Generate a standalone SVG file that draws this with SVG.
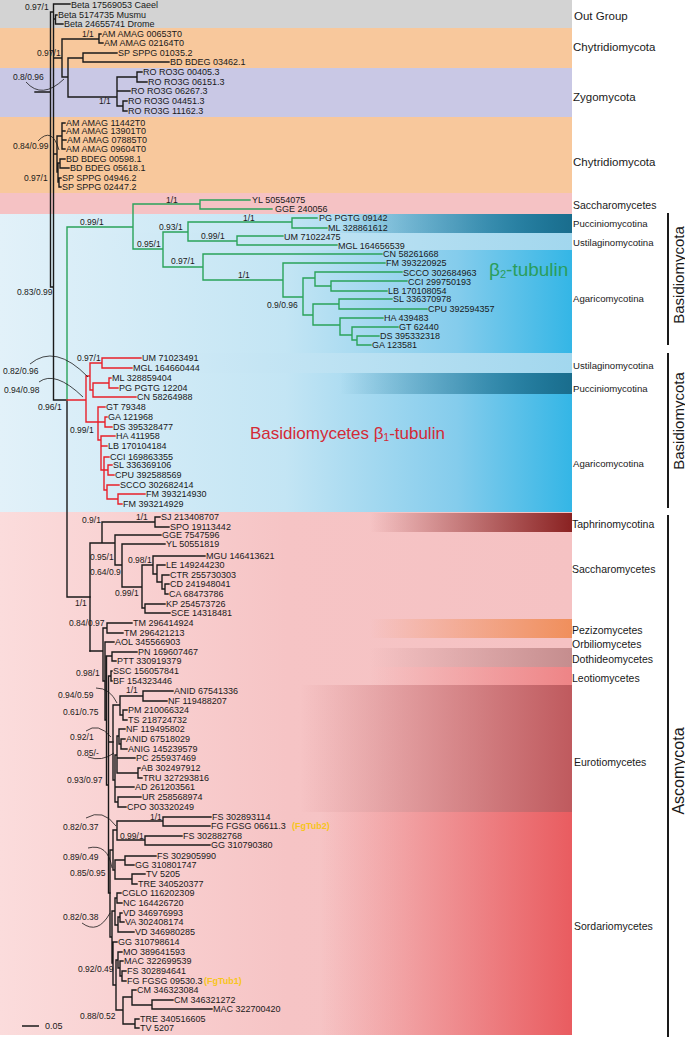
<svg xmlns="http://www.w3.org/2000/svg" width="685" height="1037" viewBox="0 0 685 1037">
<defs>
<linearGradient id="gBlue" gradientUnits="userSpaceOnUse" x1="0" y1="0" x2="572" y2="0"><stop offset="0" stop-color="#e2f1f9"/><stop offset="0.5" stop-color="#c3e5f4"/><stop offset="0.8" stop-color="#84ccec"/><stop offset="1" stop-color="#34b6e6"/></linearGradient>
<linearGradient id="gUst" gradientUnits="userSpaceOnUse" x1="0" y1="0" x2="572" y2="0"><stop offset="0" stop-color="#e2f1f9"/><stop offset="1" stop-color="#a2d7ee"/></linearGradient>
<linearGradient id="gPuc" gradientUnits="userSpaceOnUse" x1="340" y1="0" x2="572" y2="0"><stop offset="0" stop-color="#1a6d8d" stop-opacity="0"/><stop offset="1" stop-color="#1a6d8d"/></linearGradient>
<linearGradient id="gPink" gradientUnits="userSpaceOnUse" x1="0" y1="0" x2="572" y2="0"><stop offset="0" stop-color="#fbdcdc"/><stop offset="0.5" stop-color="#f6c4c5"/><stop offset="1" stop-color="#f5c2c3"/></linearGradient>
<linearGradient id="gTaph" gradientUnits="userSpaceOnUse" x1="370" y1="0" x2="572" y2="0"><stop offset="0" stop-color="#8a2222" stop-opacity="0"/><stop offset="1" stop-color="#8a2222"/></linearGradient>
<linearGradient id="gPez" gradientUnits="userSpaceOnUse" x1="370" y1="0" x2="572" y2="0"><stop offset="0" stop-color="#f08f5c" stop-opacity="0"/><stop offset="1" stop-color="#f08f5c"/></linearGradient>
<linearGradient id="gDoth" gradientUnits="userSpaceOnUse" x1="370" y1="0" x2="572" y2="0"><stop offset="0" stop-color="#c58d8e" stop-opacity="0"/><stop offset="1" stop-color="#c58d8e"/></linearGradient>
<linearGradient id="gLeo" gradientUnits="userSpaceOnUse" x1="370" y1="0" x2="572" y2="0"><stop offset="0" stop-color="#ee8486" stop-opacity="0"/><stop offset="1" stop-color="#ee8486"/></linearGradient>
<linearGradient id="gEuro" gradientUnits="userSpaceOnUse" x1="300" y1="0" x2="572" y2="0"><stop offset="0" stop-color="#bf5a5e" stop-opacity="0"/><stop offset="1" stop-color="#bf5a5e"/></linearGradient>
<linearGradient id="gSord" gradientUnits="userSpaceOnUse" x1="320" y1="0" x2="572" y2="0"><stop offset="0" stop-color="#e95c60" stop-opacity="0"/><stop offset="1" stop-color="#e95c60"/></linearGradient>
</defs>
<style>
.lf{font-family:"Liberation Sans",Arial,sans-serif;font-size:9px;fill:#1a1a1a}
.sp{font-family:"Liberation Sans",Arial,sans-serif;font-size:8.5px;fill:#1a1a1a}
.cl{font-family:"Liberation Sans",Arial,sans-serif;fill:#1a1a1a}
.c1{font-size:11.5px}.c2{font-size:9.6px}.c3{font-size:10.5px}
.k{fill:none;stroke:#1a1a1a;stroke-width:1.4;stroke-linecap:square}
.gr{fill:none;stroke:#2aa35a;stroke-width:1.4;stroke-linecap:square}
.rd{fill:none;stroke:#e8202a;stroke-width:1.4;stroke-linecap:square}
.ar{fill:none;stroke:#1a1a1a;stroke-width:0.8}
.bar{fill:none;stroke:#1a1a1a;stroke-width:2}
.ye{font-family:"Liberation Sans",Arial,sans-serif;font-size:9px;font-weight:bold;fill:#f7c520}
</style>
<g id="background">
<rect x="0" y="0" width="572" height="28" fill="#d3d3d3"/>
<rect x="0" y="28" width="572" height="40" fill="#f8c89c"/>
<rect x="0" y="68" width="572" height="49" fill="#c9c8e5"/>
<rect x="0" y="117" width="572" height="76" fill="#f8c89c"/>
<rect x="0" y="193" width="572" height="21" fill="#f5c2c4"/>
<rect x="0" y="214" width="572" height="298" fill="url(#gBlue)"/>
<rect x="0" y="214" width="572" height="19" fill="url(#gPuc)"/>
<rect x="0" y="233" width="572" height="17" fill="url(#gUst)"/>
<rect x="0" y="353" width="572" height="20" fill="url(#gUst)"/>
<rect x="0" y="373" width="572" height="21" fill="url(#gPuc)"/>
<rect x="0" y="512" width="572" height="523" fill="url(#gPink)"/>
<rect x="0" y="513" width="572" height="19" fill="url(#gTaph)"/>
<rect x="0" y="619" width="572" height="19" fill="url(#gPez)"/>
<rect x="0" y="648" width="572" height="19" fill="url(#gDoth)"/>
<rect x="0" y="667" width="572" height="18" fill="url(#gLeo)"/>
<rect x="0" y="685" width="572" height="127" fill="url(#gEuro)"/>
<rect x="0" y="812" width="572" height="223" fill="url(#gSord)"/>
</g>
<g id="connectors">
<path class="k" d="M53.5,4 H70 M53.5,4 V400 M53.5,19 H55.5 M55.5,15 V24 M55.5,15 H57 M55.5,24 H63 M50.5,12 H53.5 M50.5,12 V287 H53.5 M35,92 H50.5 M53.5,58 H62 M62,39 V77 M62,39 H99 M99,34 V43 M99,34 H101 M99,43 H103 M62,77 H68 M68,58 V97 M68,58 H83 M83,53 V62 M83,53 H117 M83,62 H169 M68,97 H117 M117,77 V106 M117,77 H137 M137,72 V82 M137,72 H142 M137,82 H147 M117,91 H130 M117,106 H123 M123,101 V111 M123,101 H127 M123,111 H127 M53.5,154 H57 M57,136 V172 M57,136 H62 M62,123 V149 M62,123 H65 M62,131 H65 M62,140 H66 M62,149 H65 M57,172 H58 M58,163 V182 M58,163 H60 M60,159 V168 M60,159 H65 M60,168 H69 M58,182 H59 M59,178 V187 M59,178 H61 M59,187 H61 M53.5,400 H67 M67,400 V597 M67,597 H90"/>
<path class="k" d="M90,543 V651 M90,543 H102 M102,522 V543 M102,522 H155 M155,517 V527 M155,517 H160 M155,527 H169 M102,543 H115 M115,535 V565 M115,535 H161 M115,565 H122 M122,544 V587 M122,544 H165 M122,587 H142 M142,565 V608 M142,565 H153 M153,556 V574 M153,556 H205 M153,574 H157 M157,565 V582 M157,565 H165 M157,582 H162 M162,575 V589 M162,575 H169 M162,589 H165 M165,584 V594 M165,584 H169 M165,594 H168 M142,608 H145 M145,604 V613 M145,604 H165 M145,613 H170"/>
<path class="k" d="M90,651 H103 M103,628 V681 M103,628 H107 M107,623 V633 M107,623 H132 M107,633 H123 M103,681 H105 M105,642 V720 M105,642 H114 M105,720 H106.5 M106.5,656 V785 M106.5,656 H112 M112,652 V661 M112,652 H137 M112,661 H116 M106.5,785 H108.5 M108.5,676 V893 M108.5,676 H111 M111,671 V681 M111,671 H112 M111,681 H112 M108.5,742 H113 M108.5,893 H110"/>
<path class="k" d="M113,705 V780 M113,705 H120 M120,696 V715 M120,696 H143 M143,691 V701 M143,691 H173 M143,701 H167 M120,715 H123 M123,710 V720 M123,710 H127 M123,720 H127 M113,780 H115 M115,755 V802 M115,755 H117 M117,736 V773 M117,736 H119 M119,729 V744 M119,729 H125 M119,744 H121 M121,739 V749 M121,739 H125 M121,749 H127 M117,758 H135 M117,773 H138 M138,768 V778 M138,768 H140 M138,778 H142 M115,787 H134 M115,802 H118 M118,797 V807 M118,797 H141 M118,807 H126"/>
<path class="k" d="M110,850 V937 M110,850 H113 M113,830 V870 M113,830 H117 M117,821 V840 M117,821 H163 M163,817 V826 M163,817 H211 M163,826 H210 M117,840 H145 M145,836 V845 M145,836 H182 M145,845 H210 M113,870 H115 M115,860 V879 M115,860 H125 M125,856 V865 M125,856 H156 M125,865 H134 M115,879 H132 M132,874 V884 M132,874 H145 M132,884 H137 M110,937 H112 M112,911 V963 M112,911 H115 M115,898 V925 M115,898 H117 M117,893 V903 M117,893 H121 M117,903 H122 M115,925 H118 M118,917 V932 M118,917 H120 M120,913 V922 M120,913 H122 M120,922 H124 M118,932 H134 M112,963 H113 M113,942 V985 M113,942 H117 M113,985 H116 M116,960 V1010 M116,960 H118 M118,952 V968 M118,952 H122 M118,968 H120 M120,961 V976 M120,961 H123 M120,976 H122 M122,971 V981 M122,971 H126 M122,981 H126 M116,1010 H123 M123,997 V1024 M123,997 H132 M132,990 V1005 M132,990 H136 M132,1005 H152 M152,1000 V1009 M152,1000 H173 M152,1009 H212 M123,1024 H135 M135,1019 V1028 M135,1019 H139 M135,1028 H139"/>
<path class="gr" d="M67,227 V400 M67,227 H133 M133,204 V249 M133,204 H200 M200,200 V209 M200,200 H250 M200,209 H272 M133,249 H163 M163,232 V267 M163,232 H188 M188,222 V241 M188,222 H292 M292,218 V228 M292,218 H317 M292,228 H327 M188,241 H237 M237,236 V245 M237,236 H283 M237,245 H337 M163,267 H203 M203,254 V280 M203,254 H382 M203,280 H283 M283,263 V297 M283,263 H385 M283,297 H303 M303,278 V315 M303,278 H315 M315,272 V286 M315,272 H402 M315,286 H331 M331,281 V291 M331,281 H407 M331,291 H387 M303,315 H313 M313,304 V325 M313,304 H339 M339,299 V309 M339,299 H392 M339,309 H427 M313,325 H340 M340,318 V335 M340,318 H383 M340,335 H352 M352,327 V340 M352,327 H398 M352,340 H357 M357,336 V345 M357,336 H379 M357,345 H371"/>
<path class="rd" d="M67,400 H86 M86,376 V422 M86,376 H90 M90,363 V390 M90,363 H102 M102,358 V368 M102,358 H141 M102,368 H132 M90,390 H93 M93,383 V397 M93,383 H109 M109,378 V388 M109,378 H111 M109,388 H118 M93,397 H136 M86,422 H98 M98,407 V440 M98,407 H105 M98,422 H105 M105,417 V427 M105,417 H107 M105,427 H112 M98,440 H101 M101,436 V470 M101,436 H115 M101,446 H107 M101,470 H104 M104,457 V490 M104,457 H109 M104,470 H108 M108,465 V475 M108,465 H112 M108,475 H114 M104,490 H107 M107,485 V499 M107,485 H119 M107,499 H118 M118,494 V504 M118,494 H145 M118,504 H122"/>
<path class="ar" d="M26,82 Q42,100 64,79 M38,141 Q52,126 59,150 M30,364 Q55,343 88,377 M39,382 Q55,370 83,397 M96,688 Q110,688 117,703 M86,731 Q98,722 111,737 M88,757 Q102,762 114,753 M86,818 Q103,808 116,826 M88,848 Q108,843 112,868 M82,923 Q98,935 110,913"/>
<path class="bar" d="M668,213 V345 M668,353 V508 M668,515 V1037"/>
<path d="M22,1026 H39" stroke="#1a1a1a" stroke-width="1.5"/>
</g>
<g id="support">
<text class="sp" x="25" y="10">0.97/1</text>
<text class="sp" x="82" y="37">1/1</text>
<text class="sp" x="37" y="56">0.97/1</text>
<text class="sp" x="13" y="80">0.8/0.96</text>
<text class="sp" x="99" y="104">1/1</text>
<text class="sp" x="13" y="149">0.84/0.99</text>
<text class="sp" x="24" y="181">0.97/1</text>
<text class="sp" x="166" y="203">1/1</text>
<text class="sp" x="80" y="225">0.99/1</text>
<text class="sp" x="243" y="221">1/1</text>
<text class="sp" x="159" y="230">0.93/1</text>
<text class="sp" x="201" y="239">0.99/1</text>
<text class="sp" x="137" y="247">0.95/1</text>
<text class="sp" x="171" y="264">0.97/1</text>
<text class="sp" x="238" y="278">1/1</text>
<text class="sp" x="17" y="295">0.83/0.99</text>
<text class="sp" x="267" y="308">0.9/0.96</text>
<text class="sp" x="77" y="361">0.97/1</text>
<text class="sp" x="3" y="374">0.82/0.96</text>
<text class="sp" x="4" y="393">0.94/0.98</text>
<text class="sp" x="38" y="410">0.96/1</text>
<text class="sp" x="70" y="433">0.99/1</text>
<text class="sp" x="136" y="520">1/1</text>
<text class="sp" x="82" y="523">0.9/1</text>
<text class="sp" x="90" y="560">0.95/1</text>
<text class="sp" x="128" y="563">0.98/1</text>
<text class="sp" x="90" y="575">0.64/0.9</text>
<text class="sp" x="115" y="596">0.99/1</text>
<text class="sp" x="75" y="606">1/1</text>
<text class="sp" x="69" y="626">0.84/0.97</text>
<text class="sp" x="76" y="676">0.98/1</text>
<text class="sp" x="126" y="693">1/1</text>
<text class="sp" x="58" y="698">0.94/0.59</text>
<text class="sp" x="63" y="715">0.61/0.75</text>
<text class="sp" x="70" y="740">0.92/1</text>
<text class="sp" x="77" y="756">0.85/-</text>
<text class="sp" x="67" y="783">0.93/0.97</text>
<text class="sp" x="150" y="820">1/1</text>
<text class="sp" x="63" y="830">0.82/0.37</text>
<text class="sp" x="120" y="839">0.99/1</text>
<text class="sp" x="63" y="860">0.89/0.49</text>
<text class="sp" x="70" y="876">0.85/0.95</text>
<text class="sp" x="63" y="920">0.82/0.38</text>
<text class="sp" x="78" y="972">0.92/0.49</text>
<text class="sp" x="80" y="1019">0.88/0.52</text>
<text class="lf" x="45" y="1029">0.05</text>
</g>
<g id="leaf-01"><text class="lf" x="71" y="8">Beta 17569053 Caeel</text></g>
<g id="leaf-02"><text class="lf" x="58" y="18">Beta 5174735 Musmu</text></g>
<g id="leaf-03"><text class="lf" x="64" y="27">Beta 24655741 Drome</text></g>
<g id="leaf-04"><text class="lf" x="102" y="37">AM AMAG 00653T0</text></g>
<g id="leaf-05"><text class="lf" x="104" y="46">AM AMAG 02164T0</text></g>
<g id="leaf-06"><text class="lf" x="118" y="56">SP SPPG 01035.2</text></g>
<g id="leaf-07"><text class="lf" x="170" y="65">BD BDEG 03462.1</text></g>
<g id="leaf-08"><text class="lf" x="143" y="75">RO RO3G 00405.3</text></g>
<g id="leaf-09"><text class="lf" x="148" y="85">RO RO3G 06151.3</text></g>
<g id="leaf-10"><text class="lf" x="131" y="94">RO RO3G 06267.3</text></g>
<g id="leaf-11"><text class="lf" x="128" y="104">RO RO3G 04451.3</text></g>
<g id="leaf-12"><text class="lf" x="128" y="114">RO RO3G 11162.3</text></g>
<g id="leaf-13"><text class="lf" x="66" y="126">AM AMAG 11442T0</text></g>
<g id="leaf-14"><text class="lf" x="66" y="134">AM AMAG 13901T0</text></g>
<g id="leaf-15"><text class="lf" x="67" y="143">AM AMAG 07885T0</text></g>
<g id="leaf-16"><text class="lf" x="66" y="152">AM AMAG 09604T0</text></g>
<g id="leaf-17"><text class="lf" x="66" y="162">BD BDEG 00598.1</text></g>
<g id="leaf-18"><text class="lf" x="70" y="171">BD BDEG 05618.1</text></g>
<g id="leaf-19"><text class="lf" x="62" y="181">SP SPPG 04946.2</text></g>
<g id="leaf-20"><text class="lf" x="62" y="190">SP SPPG 02447.2</text></g>
<g id="leaf-21"><text class="lf" x="252" y="203">YL 50554075</text></g>
<g id="leaf-22"><text class="lf" x="275" y="212">GGE 240056</text></g>
<g id="leaf-23"><text class="lf" x="319" y="221">PG PGTG 09142</text></g>
<g id="leaf-24"><text class="lf" x="328" y="231">ML 328861612</text></g>
<g id="leaf-25"><text class="lf" x="284" y="240">UM 71022475</text></g>
<g id="leaf-26"><text class="lf" x="338" y="249">MGL 164656539</text></g>
<g id="leaf-27"><text class="lf" x="383" y="257">CN 58261668</text></g>
<g id="leaf-28"><text class="lf" x="386" y="266">FM 393220925</text></g>
<g id="leaf-29"><text class="lf" x="403" y="276">SCCO 302684963</text></g>
<g id="leaf-30"><text class="lf" x="408" y="285">CCI 299750193</text></g>
<g id="leaf-31"><text class="lf" x="388" y="294">LB 170108054</text></g>
<g id="leaf-32"><text class="lf" x="393" y="302">SL 336370978</text></g>
<g id="leaf-33"><text class="lf" x="428" y="312">CPU 392594357</text></g>
<g id="leaf-34"><text class="lf" x="384" y="321">HA 439483</text></g>
<g id="leaf-35"><text class="lf" x="399" y="330">GT 62440</text></g>
<g id="leaf-36"><text class="lf" x="380" y="339">DS 395332318</text></g>
<g id="leaf-37"><text class="lf" x="372" y="348">GA 123581</text></g>
<g id="leaf-38"><text class="lf" x="142" y="361">UM 71023491</text></g>
<g id="leaf-39"><text class="lf" x="133" y="371">MGL 164660444</text></g>
<g id="leaf-40"><text class="lf" x="112" y="381">ML 328859404</text></g>
<g id="leaf-41"><text class="lf" x="119" y="391">PG PGTG 12204</text></g>
<g id="leaf-42"><text class="lf" x="137" y="400">CN 58264988</text></g>
<g id="leaf-43"><text class="lf" x="106" y="410">GT 79348</text></g>
<g id="leaf-44"><text class="lf" x="108" y="420">GA 121968</text></g>
<g id="leaf-45"><text class="lf" x="113" y="430">DS 395328477</text></g>
<g id="leaf-46"><text class="lf" x="116" y="439">HA 411958</text></g>
<g id="leaf-47"><text class="lf" x="108" y="449">LB 170104184</text></g>
<g id="leaf-48"><text class="lf" x="110" y="460">CCI 169863355</text></g>
<g id="leaf-49"><text class="lf" x="113" y="468">SL 336369106</text></g>
<g id="leaf-50"><text class="lf" x="115" y="478">CPU 392588569</text></g>
<g id="leaf-51"><text class="lf" x="120" y="488">SCCO 302682414</text></g>
<g id="leaf-52"><text class="lf" x="146" y="497">FM 393214930</text></g>
<g id="leaf-53"><text class="lf" x="123" y="507">FM 393214929</text></g>
<g id="leaf-54"><text class="lf" x="161" y="520">SJ 213408707</text></g>
<g id="leaf-55"><text class="lf" x="170" y="530">SPO 19113442</text></g>
<g id="leaf-56"><text class="lf" x="162" y="538">GGE 7547596</text></g>
<g id="leaf-57"><text class="lf" x="166" y="547">YL 50551819</text></g>
<g id="leaf-58"><text class="lf" x="206" y="559">MGU 146413621</text></g>
<g id="leaf-59"><text class="lf" x="166" y="568">LE 149244230</text></g>
<g id="leaf-60"><text class="lf" x="170" y="578">CTR 255730303</text></g>
<g id="leaf-61"><text class="lf" x="170" y="587">CD 241948041</text></g>
<g id="leaf-62"><text class="lf" x="169" y="597">CA 68473786</text></g>
<g id="leaf-63"><text class="lf" x="166" y="607">KP 254573726</text></g>
<g id="leaf-64"><text class="lf" x="171" y="616">SCE 14318481</text></g>
<g id="leaf-65"><text class="lf" x="133" y="626">TM 296414924</text></g>
<g id="leaf-66"><text class="lf" x="124" y="636">TM 296421213</text></g>
<g id="leaf-67"><text class="lf" x="115" y="645">AOL 345566903</text></g>
<g id="leaf-68"><text class="lf" x="138" y="655">PN 169607467</text></g>
<g id="leaf-69"><text class="lf" x="117" y="664">PTT 330919379</text></g>
<g id="leaf-70"><text class="lf" x="113" y="674">SSC 156057841</text></g>
<g id="leaf-71"><text class="lf" x="113" y="684">BF 154323446</text></g>
<g id="leaf-72"><text class="lf" x="174" y="694">ANID 67541336</text></g>
<g id="leaf-73"><text class="lf" x="168" y="704">NF 119488207</text></g>
<g id="leaf-74"><text class="lf" x="128" y="713">PM 210066324</text></g>
<g id="leaf-75"><text class="lf" x="128" y="723">TS 218724732</text></g>
<g id="leaf-76"><text class="lf" x="126" y="732">NF 119495802</text></g>
<g id="leaf-77"><text class="lf" x="126" y="742">ANID 67518029</text></g>
<g id="leaf-78"><text class="lf" x="128" y="752">ANIG 145239579</text></g>
<g id="leaf-79"><text class="lf" x="136" y="761">PC 255937469</text></g>
<g id="leaf-80"><text class="lf" x="141" y="771">AB 302497912</text></g>
<g id="leaf-81"><text class="lf" x="143" y="781">TRU 327293816</text></g>
<g id="leaf-82"><text class="lf" x="135" y="790">AD 261203561</text></g>
<g id="leaf-83"><text class="lf" x="142" y="800">UR 258568974</text></g>
<g id="leaf-84"><text class="lf" x="127" y="810">CPO 303320249</text></g>
<g id="leaf-85"><text class="lf" x="212" y="820">FS 302893114</text></g>
<g id="leaf-86"><text class="lf" x="211" y="829">FG FGSG 06611.3</text><text class="ye" x="292" y="829">(FgTub2)</text></g>
<g id="leaf-87"><text class="lf" x="183" y="839">FS 302882768</text></g>
<g id="leaf-88"><text class="lf" x="211" y="848">GG 310790380</text></g>
<g id="leaf-89"><text class="lf" x="157" y="859">FS 302905990</text></g>
<g id="leaf-90"><text class="lf" x="135" y="868">GG 310801747</text></g>
<g id="leaf-91"><text class="lf" x="146" y="877">TV 5205</text></g>
<g id="leaf-92"><text class="lf" x="138" y="887">TRE 340520377</text></g>
<g id="leaf-93"><text class="lf" x="122" y="896">CGLO 116202309</text></g>
<g id="leaf-94"><text class="lf" x="123" y="906">NC 164426720</text></g>
<g id="leaf-95"><text class="lf" x="123" y="916">VD 346976993</text></g>
<g id="leaf-96"><text class="lf" x="125" y="925">VA 302408174</text></g>
<g id="leaf-97"><text class="lf" x="135" y="935">VD 346980285</text></g>
<g id="leaf-98"><text class="lf" x="118" y="945">GG 310798614</text></g>
<g id="leaf-99"><text class="lf" x="123" y="955">MO 389641593</text></g>
<g id="leaf-100"><text class="lf" x="124" y="964">MAC 322699539</text></g>
<g id="leaf-101"><text class="lf" x="127" y="974">FS 302894641</text></g>
<g id="leaf-102"><text class="lf" x="127" y="984">FG FGSG 09530.3</text><text class="ye" x="204" y="984">(FgTub1)</text></g>
<g id="leaf-103"><text class="lf" x="137" y="993">CM 346323084</text></g>
<g id="leaf-104"><text class="lf" x="174" y="1003">CM 346321272</text></g>
<g id="leaf-105"><text class="lf" x="213" y="1012">MAC 322700420</text></g>
<g id="leaf-106"><text class="lf" x="140" y="1022">TRE 340516605</text></g>
<g id="leaf-107"><text class="lf" x="140" y="1031">TV 5207</text></g>
<g id="clade-labels">
<text class="cl c1" x="574" y="20">Out Group</text>
<text class="cl c1" x="573" y="51">Chytridiomycota</text>
<text class="cl c1" x="573" y="101">Zygomycota</text>
<text class="cl c1" x="573" y="166">Chytridiomycota</text>
<text class="cl c3" x="573" y="209">Saccharomycetes</text>
<text class="cl c2" x="573" y="226.5">Pucciniomycotina</text>
<text class="cl c2" x="573" y="245.5">Ustilaginomycotina</text>
<text class="cl c2" x="573" y="301.5">Agaricomycotina</text>
<text class="cl c2" x="573" y="368.5">Ustilaginomycotina</text>
<text class="cl c2" x="573" y="391.5">Pucciniomycotina</text>
<text class="cl c2" x="573" y="466.5">Agaricomycotina</text>
<text class="cl c3" x="572" y="527.5">Taphrinomycotina</text>
<text class="cl c3" x="572" y="572.5">Saccharomycetes</text>
<text class="cl c3" x="572" y="633.5">Pezizomycetes</text>
<text class="cl c3" x="572" y="647.5">Orbiliomycetes</text>
<text class="cl c3" x="572" y="662.5">Dothideomycetes</text>
<text class="cl c3" x="572" y="681.5">Leotiomycetes</text>
<text class="cl c3" x="574" y="765.5">Eurotiomycetes</text>
<text class="cl c3" x="574" y="929.5">Sordariomycetes</text>
</g>
<g id="phylum-labels">
<text class="cl" font-size="15" text-anchor="middle" transform="translate(684,275) rotate(-90)">Basidiomycota</text>
<text class="cl" font-size="15" text-anchor="middle" transform="translate(684,421) rotate(-90)">Basidiomycota</text>
<text class="cl" font-size="16" text-anchor="middle" transform="translate(684,771) rotate(-90)">Ascomycota</text>
</g>
<g id="tubulin-labels">
<text font-family="Liberation Sans, Arial, sans-serif" font-size="19" fill="#2a9d5c" x="489" y="276">β<tspan font-size="11" dy="2">2</tspan><tspan dy="-2">-tubulin</tspan></text>
<text font-family="Liberation Sans, Arial, sans-serif" font-size="17" fill="#d42a36" x="250" y="439">Basidiomycetes β<tspan font-size="10" dy="2">1</tspan><tspan dy="-2">-tubulin</tspan></text>
</g>
</svg>
